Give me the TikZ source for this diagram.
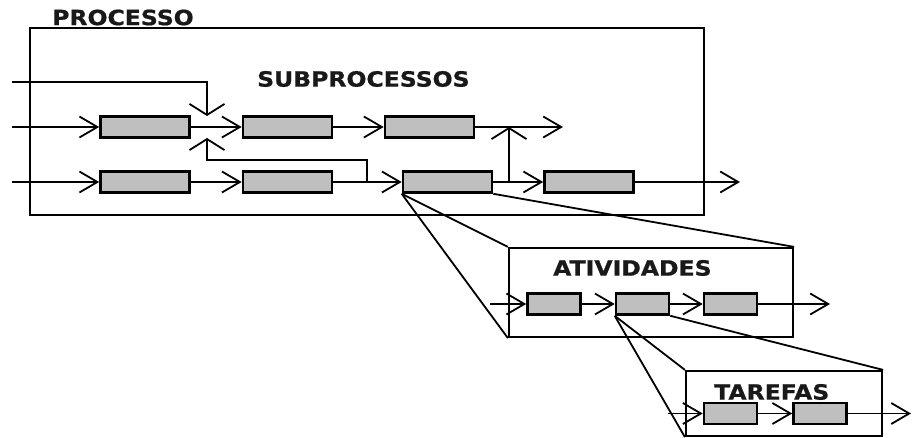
\documentclass[tikz,border=0pt]{standalone}
\usepackage{fontspec}
\setmainfont{DejaVu Sans}
\newfontfamily\lblfont{DejaVu Sans}[FakeStretch=1.12, BoldFeatures={FakeBold=0.8}]
\usetikzlibrary{arrows.meta}
\definecolor{boxgray}{RGB}{191,191,191}

\begin{document}
\begin{tikzpicture}[x=1pt, y=-1pt,
    flow/.style={line width=1.8pt, -{Straight Barb[length=18pt, width=21pt]}},
    vflow/.style={line width=1.8pt, -{Straight Barb[length=11pt, width=35pt]}},
    frame/.style={draw, line width=2.2pt, inner sep=0pt},
    zoomline/.style={line width=1.8pt},
    subbox/.style={draw, line width=2.6pt, fill=boxgray, inner sep=0pt, minimum width=89pt, minimum height=21pt},
    actbox/.style={subbox, minimum width=53pt},
    lbl/.style={anchor=west, inner sep=0pt, text=black!90, font=\lblfont\bfseries\fontsize{21}{22}\selectfont}]
    \useasboundingbox (0,0) rectangle (913,438);

    % Frames
    \node[frame, minimum width=674pt, minimum height=187pt] (procframe) at (367,121.5) {};
    \node[frame, minimum width=284pt, minimum height=89pt] (atvframe) at (651,292.5) {};
    \node[frame, minimum width=196pt, minimum height=65pt] (tarframe) at (784,403.5) {};

    % Titles
    \node[lbl] (proclbl) at (52,17.5) {PROCESSO};
    \node[lbl] (sublbl) at (257,79) {SUBPROCESSOS};
    \node[lbl] (atvlbl) at (553,268) {ATIVIDADES};
    \node[lbl] (tarlbl) at (714,392) {TAREFAS};

    % Subprocesses
    \foreach \n/\x/\y in {s1/145/127, s2/287.5/127, s3/429.5/127,
                          s4/145/182, s5/287.5/182, s6/447.5/182, s7/589/182}
        \node[subbox] (\n) at (\x,\y) {};

    % Zoom lines
    \draw[zoomline] (s6.south west) -- (atvframe.north west);
    \draw[zoomline] (s6.south west) -- (atvframe.south west);
    \draw[zoomline] (s6.south east) -- (atvframe.north east);

    % Activities and tasks
    \foreach \n/\x in {a1/554, a2/642.5, a3/730.5}
        \node[actbox] (\n) at (\x,304) {};
    \foreach \n/\x in {t1/730.5, t2/820}
        \node[actbox] (\n) at (\x,413.5) {};

    \draw[zoomline] (a2.south west) -- (tarframe.north west);
    \draw[zoomline] (a2.south west) -- (tarframe.south west);
    \draw[zoomline] (a2.south east) -- (tarframe.north east);

    % Free ends
    \coordinate (in0) at (12,82);
    \coordinate (in1) at (12,127);
    \coordinate (in2) at (12,182);
    \coordinate (out1) at (563,127);
    \coordinate (out2) at (740,182);
    \coordinate (tip0) at (207,116);
    \coordinate (fork2) at (367,182);
    \coordinate (bend2) at (207,160);
    \coordinate (tip2) at (207,138);
    \coordinate (fork3) at (509,182);
    \coordinate (tip3) at (509,127);
    \coordinate (ain) at (490,304);
    \coordinate (aout) at (830,304);
    \coordinate (tin) at (668,413.5);
    \coordinate (tout) at (911,413.5);

    % Flows
    \draw[flow] (in1) -- (s1.west);
    \draw[flow] (in2) -- (s4.west);
    \foreach \a/\b in {s1/s2, s2/s3, s4/s5, s5/s6, s6/s7, a1/a2, a2/a3, t1/t2}
        \draw[flow] (\a.east) -- (\b.west);
    \draw[flow] (s3.east) -- (out1);
    \draw[flow] (s7.east) -- (out2);
    \draw[flow] (ain) -- (a1.west);
    \draw[flow] (a3.east) -- (aout);
    \draw[flow] (tin) -- (t1.west);
    \draw[flow] (t2.east) -- (tout);

    % Cross links
    \draw[vflow] (in0) -| (tip0);
    \draw[vflow] (fork2) |- (bend2) -- (tip2);
    \draw[vflow] (fork3) -- (tip3);
\end{tikzpicture}
\end{document}
